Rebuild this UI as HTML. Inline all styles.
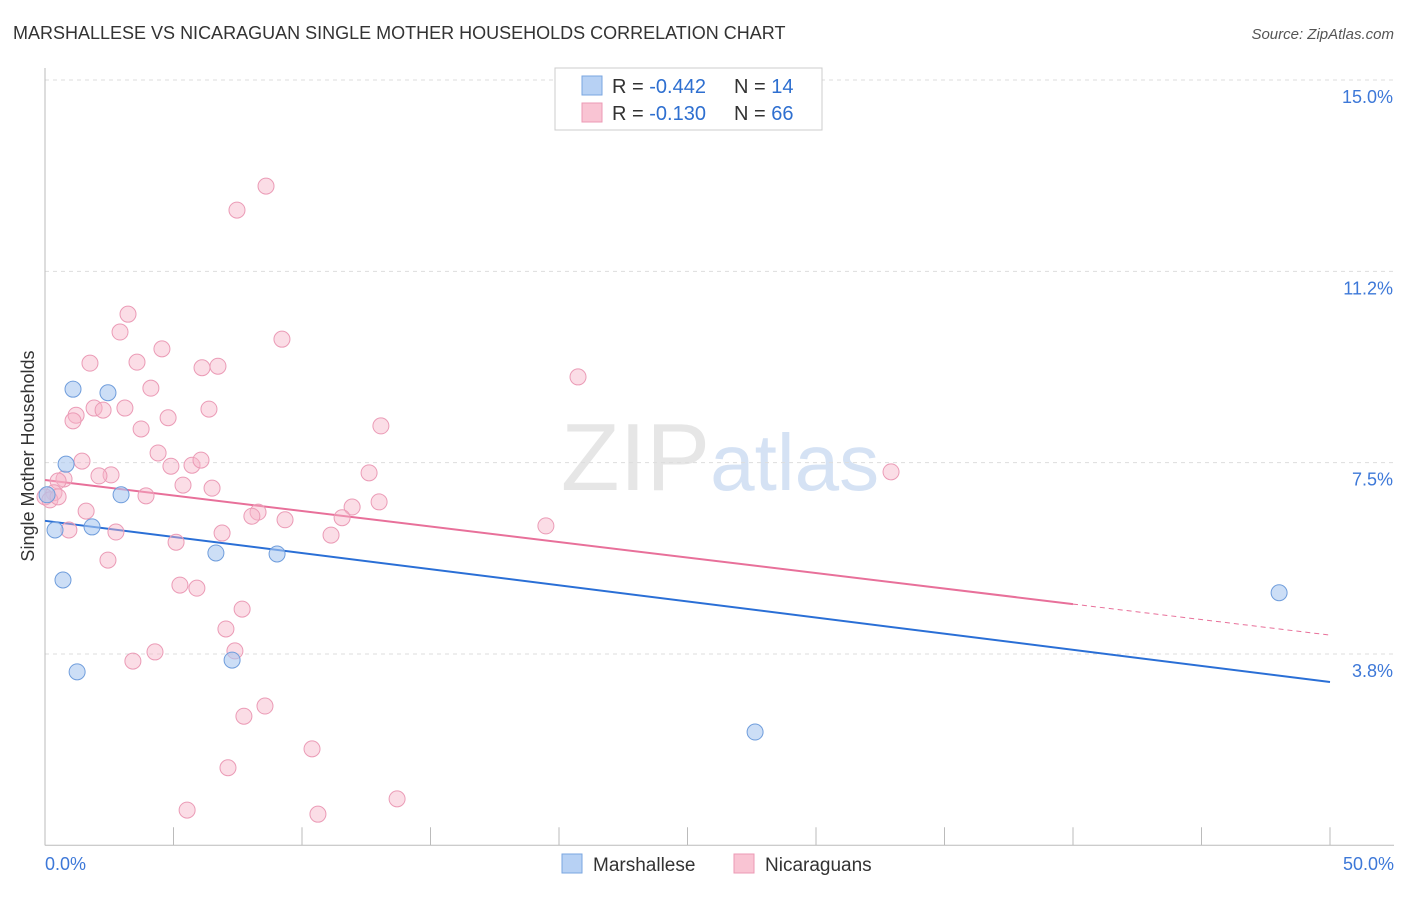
<!DOCTYPE html>
<html><head><meta charset="utf-8"><style>
body{margin:0;background:#fff;font-family:"Liberation Sans",sans-serif;}
svg text{font-family:"Liberation Sans",sans-serif;}
</style></head><body>
<svg id="chart" width="1406" height="892" xmlns="http://www.w3.org/2000/svg">
<text x="13" y="39" font-size="18" fill="#333">MARSHALLESE VS NICARAGUAN SINGLE MOTHER HOUSEHOLDS CORRELATION CHART</text>
<text x="1394" y="39" font-size="15" fill="#555" text-anchor="end" font-style="italic">Source: ZipAtlas.com</text>
<text x="720" y="490" font-size="96" text-anchor="middle" fill="#e6e6e6" font-family="Liberation Serif"><tspan>ZIP</tspan><tspan fill="#d5e2f4" font-family="Liberation Sans" font-size="80">atlas</tspan></text>
<text transform="translate(34,456) rotate(-90)" font-size="18" fill="#333" text-anchor="middle">Single Mother Households</text>
<g id="grid"></g><g id="axes"></g><g id="lines"></g><g id="pts"></g>
<g>
<rect x="555" y="68" width="267" height="62" fill="#fff" stroke="#ccc"/>
<rect x="582" y="76" width="20" height="19" fill="#b7d1f4" stroke="#7aa6e0"/>
<rect x="582" y="103" width="20" height="19" fill="#f9c4d3" stroke="#ec9ab4"/>
<text x="612" y="93" font-size="20" fill="#333">R = <tspan fill="#2e6fd0">-0.442</tspan></text>
<text x="734" y="93" font-size="20" fill="#333">N = <tspan fill="#2e6fd0"> 14</tspan></text>
<text x="612" y="120" font-size="20" fill="#333">R = <tspan fill="#2e6fd0"> -0.130</tspan></text>
<text x="734" y="120" font-size="20" fill="#333">N = <tspan fill="#2e6fd0">66</tspan></text>
</g>
<g>
<rect x="562" y="854" width="20" height="19" fill="#b7d1f4" stroke="#7aa6e0"/>
<text x="593" y="871" font-size="19" fill="#333">Marshallese</text>
<rect x="734" y="854" width="20" height="19" fill="#f9c4d3" stroke="#ec9ab4"/>
<text x="765" y="871" font-size="19" fill="#333">Nicaraguans</text>
</g>
</svg>
<script>
const yTicks=[15.0,11.25,7.5,3.75];
const yTickLabels=["15.0%","11.2%","7.5%","3.8%"];
const xTickLabels=["0.0%","50.0%"];
const blueX=[1.09,2.45,0.82,2.96,0.08,0.39,1.83,0.70,6.65,9.03,1.25,7.28,27.63,48.02];
const blueY=[8.94,8.87,7.47,6.87,6.87,6.18,6.24,5.20,5.73,5.71,3.40,3.63,2.22,4.95];
const pinkX=[8.60,7.47,3.23,2.92,9.22,4.55,1.75,3.58,6.11,6.73,20.74,4.12,1.91,2.26,3.11,6.38,1.21,1.09,4.79,3.74,13.07,4.40,1.44,4.90,5.72,6.07,2.57,2.10,12.61,32.92,0.74,0.51,5.37,6.50,3.93,0.35,0,0.19,0.51,13.00,11.95,8.29,8.05,1.60,9.34,11.56,19.49,6.89,11.13,2.76,0.93,5.10,2.45,5.25,5.91,7.67,7.04,4.28,3.42,7.39,8.56,7.74,10.39,7.12,13.70,5.53,10.62];
const pinkY=[12.92,12.45,10.41,10.06,9.92,9.73,9.45,9.47,9.36,9.39,9.18,8.96,8.57,8.53,8.57,8.55,8.43,8.32,8.38,8.16,8.22,7.69,7.53,7.43,7.45,7.55,7.26,7.24,7.30,7.32,7.18,7.14,7.06,7.00,6.85,6.91,6.83,6.77,6.83,6.73,6.63,6.53,6.45,6.55,6.38,6.42,6.26,6.12,6.08,6.14,6.18,5.94,5.59,5.10,5.04,4.63,4.24,3.79,3.61,3.81,2.73,2.53,1.89,1.52,0.91,0.69,0.61];
const blueTrend=[6.36,3.20];
const pinkTrend=[7.16,4.12];
const pinkSolidEnd=40;
const NS="http://www.w3.org/2000/svg";
const X=v=>45+v*25.7, Y=v=>80+(15-v)*51.02;
function mk(p,t,a){const e=document.createElementNS(NS,t);for(const k in a)e.setAttribute(k,a[k]);document.getElementById(p).appendChild(e);return e;}
yTicks.forEach((t,i)=>{
 const g=mk('grid','line',{x1:45,x2:1394,y1:Y(t),y2:Y(t),stroke:'#ddd','stroke-dasharray':'4,4'});
 
 
 const l=mk('axes','text',{x:1393,y:Y(t)+23,'font-size':18,fill:'#3d78d8','text-anchor':'end'});
 l.textContent=yTickLabels[i];
 
 
});
const xa=mk('axes','line',{x1:45,x2:1394,y1:Y(0),y2:Y(0),stroke:'#bbb'});


const ya=mk('axes','line',{x1:45,x2:45,y1:68,y2:Y(0),stroke:'#bbb'});


for(let i=0;i<=10;i++){const t=mk('axes','line',{x1:X(i*5),x2:X(i*5),y1:Y(0),y2:Y(0)-18,stroke:'#bbb'});
 
 }
[[0,'start',45],[50,'end',1394]].forEach((d,i)=>{const l=mk('axes','text',{x:d[2],y:870,'font-size':18,fill:'#3d78d8','text-anchor':d[1]});l.textContent=xTickLabels[i];
 
 });
const bl=mk('lines','line',{x1:X(0),y1:Y(blueTrend[0]),x2:X(50),y2:Y(blueTrend[1]),stroke:'#2a6fd6','stroke-width':2});


const pAt=x=>pinkTrend[0]+(pinkTrend[1]-pinkTrend[0])*x/50;
const pl=mk('lines','line',{x1:X(0),y1:Y(pinkTrend[0]),x2:X(pinkSolidEnd),y2:Y(pAt(pinkSolidEnd)),stroke:'#e8709a','stroke-width':2});


const pd=mk('lines','line',{x1:X(pinkSolidEnd),y1:Y(pAt(pinkSolidEnd)),x2:X(50),y2:Y(pinkTrend[1]),stroke:'#e8709a','stroke-width':1,'stroke-dasharray':'5,4'});


pinkX.forEach((x,i)=>{const c=mk('pts','circle',{cx:X(x),cy:Y(pinkY[i]),r:8,fill:'rgba(247,180,200,0.45)',stroke:'#eb9bb6','stroke-width':1});
 
 });
blueX.forEach((x,i)=>{const c=mk('pts','circle',{cx:X(x),cy:Y(blueY[i]),r:8,fill:'rgba(170,200,240,0.6)',stroke:'#6f9ddc','stroke-width':1});
 
 });
</script>
</body></html>
